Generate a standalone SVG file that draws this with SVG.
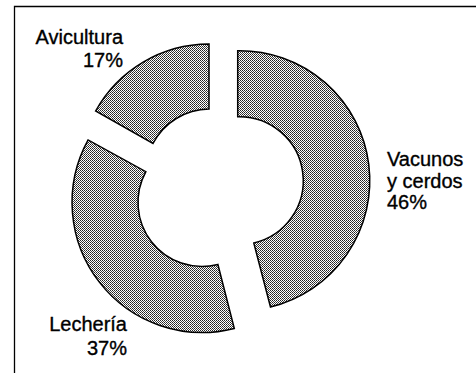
<svg xmlns="http://www.w3.org/2000/svg" width="476" height="373" viewBox="0 0 476 373">
<defs>
<pattern id="stip" width="2" height="2" patternUnits="userSpaceOnUse">
<rect width="2" height="2" fill="#ffffff"/>
<rect x="0" y="0" width="1" height="1" fill="#222"/>
<rect x="1" y="1" width="1" height="1" fill="#444"/>
</pattern>
</defs>
<style>
.seg{fill:url(#stip);stroke:#000;stroke-width:1.5;stroke-linejoin:miter}
.lbl{font-family:"Liberation Sans",Arial,sans-serif;font-size:20px;fill:#000;stroke:#000;stroke-width:0.35}
.frame{stroke:#000;stroke-width:1.3;fill:none}
</style>
<rect width="476" height="373" fill="#fff"/>
<path class="frame" d="M14.5,373 L14.5,6.5 L476,6.5"/>
<g id="vacunos">
<path class="seg" d="M237.7,50.7 A130,130 0 0 1 270.5,307 L253.8,243 A64,64 0 0 0 237.7,116.7 Z"/>
<text class="lbl" x="387" y="166">Vacunos</text>
<text class="lbl" x="387" y="188">y cerdos</text>
<text class="lbl" x="387" y="209">46%</text>
</g>
<g id="lecheria">
<path class="seg" d="M234.3,328.4 A130,130 0 0 1 88.1,139.9 L145.9,171.7 A64,64 0 0 0 217.9,264.5 Z"/>
<text class="lbl" x="127" y="331" text-anchor="end">Lechería</text>
<text class="lbl" x="127" y="355" text-anchor="end">37%</text>
</g>
<g id="avicultura">
<path class="seg" d="M95.6,111 A130,130 0 0 1 209,44 L209,109 A64,64 0 0 0 153,143.5 Z"/>
<text class="lbl" x="123" y="44" text-anchor="end">Avicultura</text>
<text class="lbl" x="123" y="67" text-anchor="end">17%</text>
</g>
<g id="connectors"></g>
</svg>
